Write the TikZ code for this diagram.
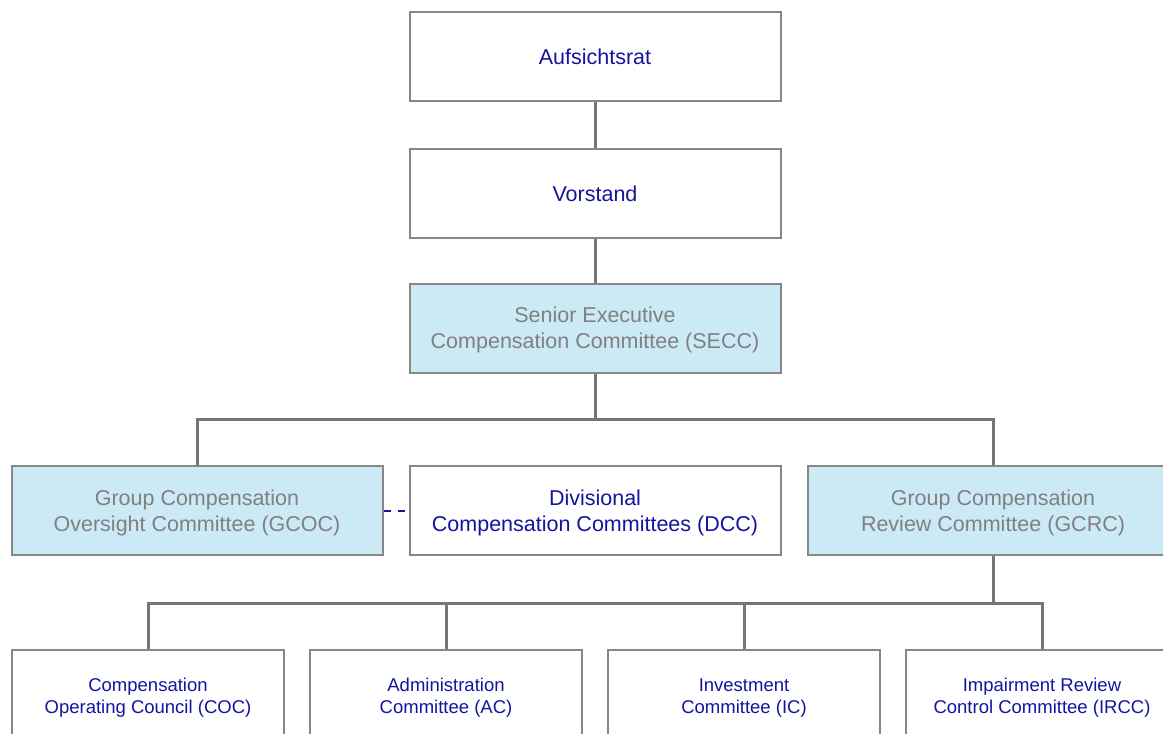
\documentclass[tikz,border=0pt]{standalone}
\usepackage{fontspec}
\setmainfont{Liberation Sans}
\definecolor{txtblue}{RGB}{20,20,160}
\definecolor{txtgray}{RGB}{128,128,128}
\definecolor{boxline}{RGB}{135,135,135}
\definecolor{connline}{RGB}{118,118,118}
\definecolor{lightfill}{RGB}{204,233,246}
\begin{document}
\begin{tikzpicture}[x=1pt,y=-1pt,
  box/.style={draw=boxline, line width=2pt, fill=white, minimum width=371pt, minimum height=89pt,
    inner sep=0pt},
  hibox/.style={box, fill=lightfill},
  smallbox/.style={box, minimum width=272pt},
  btext/.style={inner sep=0pt, align=center, text=txtblue, font=\fontsize{21.5}{26}\selectfont},
  gtext/.style={btext, text=txtgray},
  stext/.style={btext, font=\fontsize{18.5}{22}\selectfont},
  conn/.style={draw=connline, line width=3pt},
  dashconn/.style={draw=txtblue, line width=2pt, dash pattern=on 7pt off 7pt}]
\useasboundingbox (0,0) rectangle (1163,734);
\clip (0,0) rectangle (1163,734);
\fill[white] (0,0) rectangle (1163,734);

\node[box]   (aufs)  at (595,56)    {};
\node[box]   (vorst) at (595,193)   {};
\node[hibox] (secc)  at (595,328)   {};
\node[hibox] (gcoc)  at (197,510.5) {};
\node[box]   (dcc)   at (595,510.5) {};
\node[hibox] (gcrc)  at (993,510.5) {};
\node[smallbox] (coc)  at (148,694)  {};
\node[smallbox] (ac)   at (446,694)  {};
\node[smallbox] (ic)   at (744,694)  {};
\node[smallbox] (ircc) at (1042,694) {};

\node[btext] (aufs-t)  at ([yshift=-1pt]aufs.center)  {Aufsichtsrat};
\node[btext] (vorst-t) at ([yshift=-1pt]vorst.center) {Vorstand};
\node[gtext] (secc-t)  at ([yshift=-2pt]secc.center)  {Senior Executive\\Compensation Committee (SECC)};
\node[gtext] (gcoc-t)  at ([yshift=-2pt]gcoc.center)  {Group Compensation\\Oversight Committee (GCOC)};
\node[btext] (dcc-t)   at ([yshift=-2pt]dcc.center)   {Divisional\\Compensation Committees (DCC)};
\node[gtext] (gcrc-t)  at ([yshift=-2pt]gcrc.center)  {Group Compensation\\Review Committee (GCRC)};
\node[stext] (coc-t)   at ([yshift=-4pt]coc.center)   {Compensation\\Operating Council (COC)};
\node[stext] (ac-t)    at ([yshift=-4pt]ac.center)    {Administration\\Committee (AC)};
\node[stext] (ic-t)    at ([yshift=-4pt]ic.center)    {Investment\\Committee (IC)};
\node[stext] (ircc-t)  at ([yshift=-4pt]ircc.center)  {Impairment Review\\Control Committee (IRCC)};

\coordinate (bus1) at (595,419);
\coordinate (bus2) at (993,603);

\draw[conn] (aufs) -- (vorst);
\draw[conn] (vorst) -- (secc);
\draw[conn] (secc.south) -- (bus1);
\draw[conn] (gcoc.north) |- (bus1) -| (gcrc.north);
\draw[conn] (gcrc.south) -- (bus2);
\draw[conn] (coc.north) |- (bus2) -| (ircc.north);
\draw[conn] (ac.north) |- (bus2);
\draw[conn] (ic.north) |- (bus2);
\draw[dashconn] (gcoc.east) -- (dcc.west);
\end{tikzpicture}
\end{document}
